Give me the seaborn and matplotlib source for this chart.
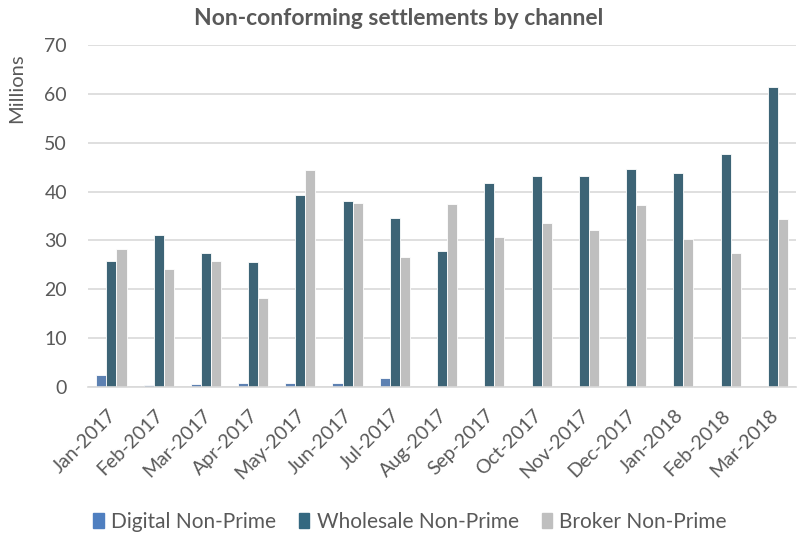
import numpy as np
import pandas as pd
import matplotlib
matplotlib.use("Agg")
import matplotlib.pyplot as plt
import matplotlib.transforms as mtransforms
import seaborn as sns

# months on the x axis
months = ['Jan-2017', 'Feb-2017', 'Mar-2017', 'Apr-2017', 'May-2017', 'Jun-2017',
          'Jul-2017', 'Aug-2017', 'Sep-2017', 'Oct-2017', 'Nov-2017', 'Dec-2017',
          'Jan-2018', 'Feb-2018', 'Mar-2018']

# values in millions
digital = [2.5, 0.4, 0.7, 0.8, 0.8, 0.9, 1.9,
           np.nan, np.nan, np.nan, np.nan, np.nan, np.nan, np.nan, np.nan]
wholesale = [25.9, 31.1, 27.4, 25.5, 39.2, 38.1, 34.6,
             27.8, 41.8, 43.2, 43.1, 44.7, 43.7, 47.7, 61.3]
broker = [28.3, 24.1, 25.7, 18.3, 44.4, 37.7, 26.6,
          37.4, 30.7, 33.5, 32.2, 37.3, 30.3, 27.5, 34.4]

series = ['Digital Non-Prime', 'Wholesale Non-Prime', 'Broker Non-Prime']
colours = ['#4F7FC0', '#346880', '#BFBFBF']

df = pd.DataFrame({'Month': months * 3,
                   'Channel': np.repeat(series, len(months)),
                   'Value': digital + wholesale + broker})

sns.set_theme(style="white")
plt.rcParams['font.family'] = ['Lato', 'DejaVu Sans']
grey = '#595959'

fig = plt.figure(figsize=(7.98, 5.34), dpi=100)
ax = fig.add_axes([0.110, 0.275, 0.888, 0.641])

sns.barplot(data=df, x='Month', y='Value', hue='Channel', order=months,
            hue_order=series, palette=colours, width=0.64,
            edgecolor='white', linewidth=0.6, legend=False, ax=ax)

ax.set_ylim(0, 70)
ax.set_yticks(range(0, 71, 10))
ax.set_xlim(-0.5, len(months) - 0.5)
ax.yaxis.grid(True, color='#D9D9D9', linewidth=1.2)
ax.set_axisbelow(True)
for s in ['top', 'right', 'left']:
    ax.spines[s].set_visible(False)
ax.spines['bottom'].set_color('#D9D9D9')
ax.spines['bottom'].set_linewidth(1.2)

ax.tick_params(axis='y', length=0, labelsize=14, labelcolor=grey, pad=15)
ax.tick_params(axis='x', which='major', length=0, labelsize=14, labelcolor=grey, pad=14)
ax.set_xticks(np.arange(-0.5, len(months)), minor=True)
ax.tick_params(axis='x', which='minor', length=5, color='#D9D9D9', width=1.2)
# nudge the rotated labels a bit to the left
shift = mtransforms.ScaledTranslation(-4 / 100, 0, fig.dpi_scale_trans)
for lab in ax.get_xticklabels():
    lab.set_rotation(45)
    lab.set_ha('right')
    lab.set_rotation_mode('anchor')
    lab.set_transform(lab.get_transform() + shift)

ax.set_xlabel('')
ax.set_ylabel('Millions', fontsize=14.5, color=grey)
ax.yaxis.set_label_coords(-0.089, 0.874)

fig.suptitle('Non-conforming settlements by channel', x=0.5, y=0.966, va='center',
             fontsize=16.5, fontweight='bold', color=grey)

handles = [plt.Rectangle((0, 0), 1, 1, color=c) for c in colours]
fig.legend(handles, series, loc='center', bbox_to_anchor=(0.514, 0.0225),
           ncol=3, frameon=False, fontsize=15, labelcolor=grey,
           handlelength=0.5, handleheight=0.7, handletextpad=0.35, columnspacing=1.1)

fig.savefig('out.png', dpi=100)
